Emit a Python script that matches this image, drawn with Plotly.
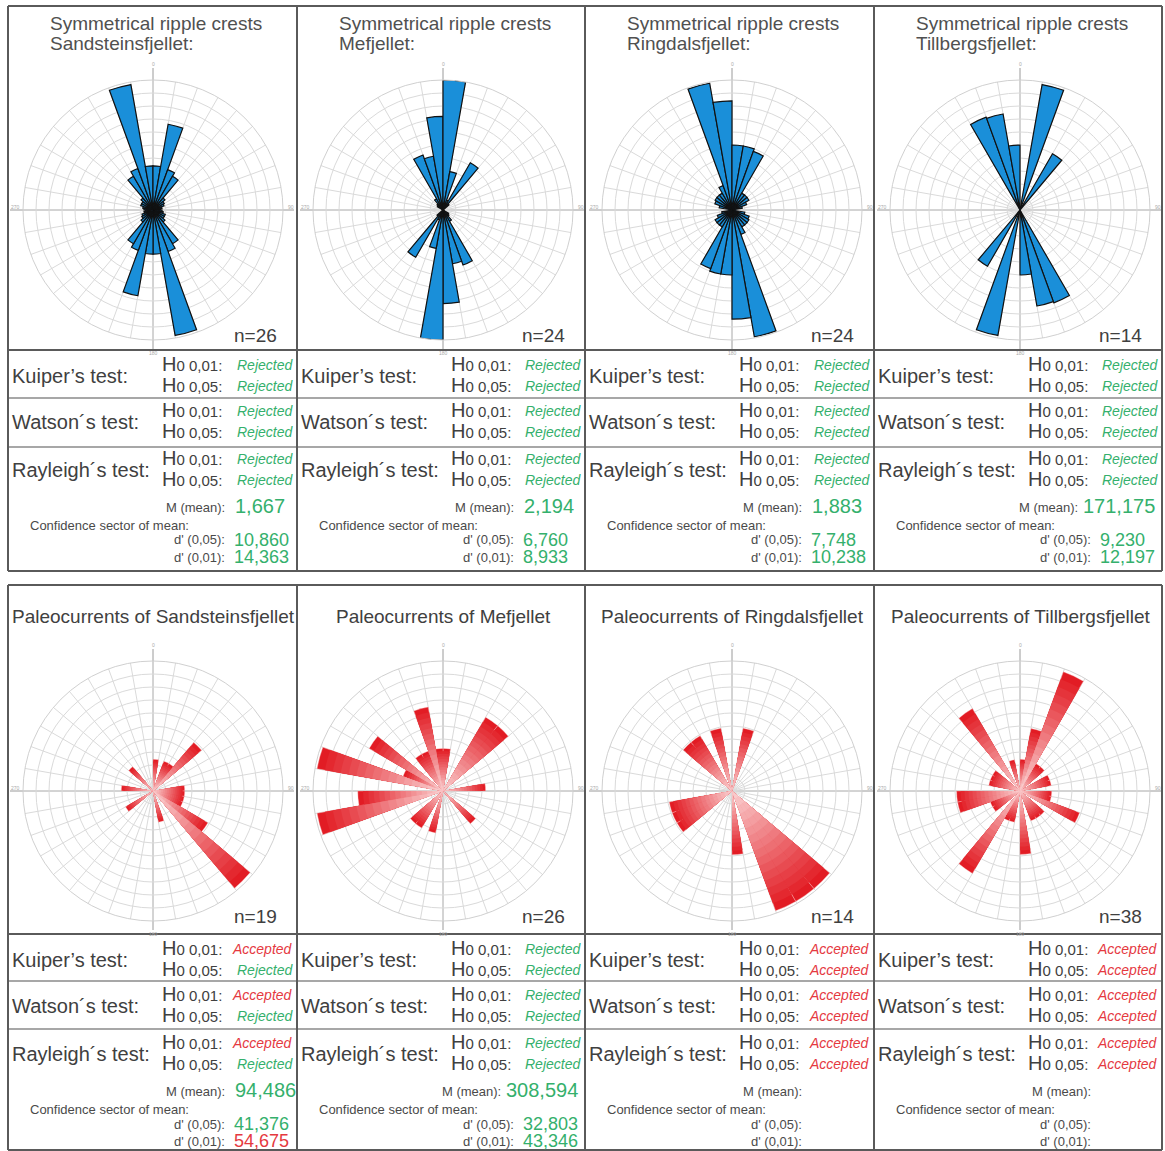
import plotly.graph_objects as go

# ---------------- data ----------------
sites = ["Sandsteinsfjellet", "Mefjellet", "Ringdalsfjellet", "Tillbergsfjellet"]
ripple_n = [26, 24, 24, 14]
paleo_n = [19, 26, 14, 38]

# Symmetrical ripple crests (axial data): north half-circle bins (deg) and
# relative bar length (fraction of outer circle); plotted at theta and theta+180
rip_theta_sand = [275, 285, 295, 305, 315, 325, 335, 345, 355, 5, 15, 25, 35, 45, 55, 65, 75, 85]
rip_r_sand = [0.07, 0.08, 0.1, 0.1, 0.12, 0.3, 0.34, 0.98, 0.34, 0.34, 0.67, 0.33, 0.3, 0.12, 0.1, 0.09, 0.07, 0.06]
rip_theta_mef = [305, 315, 325, 335, 345, 355, 5, 15, 25, 35, 45]
rip_r_mef = [0.05, 0.06, 0.1, 0.45, 0.42, 0.72, 1.0, 0.3, 0.08, 0.42, 0.06]
rip_theta_ring = [285, 295, 305, 315, 325, 335, 345, 355, 5, 15, 25, 35, 45, 55, 65, 75]
rip_r_ring = [0.1, 0.14, 0.15, 0.15, 0.15, 0.2, 0.99, 0.84, 0.5, 0.5, 0.48, 0.15, 0.15, 0.15, 0.12, 0.08]
rip_theta_till = [335, 345, 355, 15, 35]
rip_r_till = [0.76, 0.75, 0.5, 0.98, 0.5]

# Paleocurrents: bin centres (deg) and counts
pal_theta_sand = [5, 25, 35, 45, 85, 95, 105, 115, 125, 135, 165, 235, 275, 315]
pal_cnt_sand = [1, 1, 1, 2, 1, 1, 1, 1, 2, 4, 1, 1, 1, 1]
pal_theta_mef = [5, 35, 45, 85, 135, 195, 215, 225, 255, 265, 285, 295, 305, 325, 335, 345, 355]
pal_cnt_mef = [1, 2, 2, 1, 1, 1, 1, 1, 3, 2, 3, 1, 2, 1, 1, 2, 1]
pal_theta_ring = [15, 135, 145, 155, 175, 235, 245, 255, 315, 325, 345]
pal_cnt_ring = [1, 2, 2, 2, 1, 1, 1, 1, 1, 1, 1]
pal_theta_till = [5, 15, 25, 35, 45, 65, 75, 95, 105, 115, 135, 145, 155, 175, 195, 205, 215,
                  235, 245, 255, 265, 285, 295, 305, 325, 345]
pal_cnt_till = [1, 2, 4, 1, 1, 1, 1, 1, 1, 2, 1, 1, 1, 2, 1, 1, 3, 1, 1, 2, 2, 1, 1, 1, 3, 1]
pal_rmax = [4.1, 3.05, 2.04, 4.1]

# Test results: [Kuiper 0.01, Kuiper 0.05, Watson 0.01, Watson 0.05, Rayleigh 0.01, Rayleigh 0.05]
rip_tests = [["Rejected"] * 6 for _ in range(4)]
pal_tests = [
    ["Accepted", "Rejected", "Accepted", "Rejected", "Accepted", "Rejected"],
    ["Rejected"] * 6,
    ["Accepted"] * 6,
    ["Accepted"] * 6,
]
rip_mean = ["1,667", "2,194", "1,883", "171,175"]
rip_d05 = ["10,860", "6,760", "7,748", "9,230"]
rip_d01 = ["14,363", "8,933", "10,238", "12,197"]
pal_mean = ["94,486", "308,594", "", ""]
pal_d05 = ["41,376", "32,803", "", ""]
pal_d01 = ["54,675", "43,346", "", ""]
pal_d01_ok = [False, True, True, True]

# ---------------- layout helpers ----------------
W, H = 1165, 1151
R = 130
X0 = [8, 297, 585, 874]
X1 = [297, 585, 874, 1162]
CX = [153, 443, 732, 1020]
CY_TOP, CY_BOT = 210, 791
FONT = "Liberation Sans, Arial, sans-serif"
GRAY = "#4a4a4a"
GREEN = "#34b06c"
RED = "#e5393f"
BLUE = "#1a8fd9"


def fx(x):
    return x / W


def fy(y):
    return 1 - y / H


fig = go.Figure()
annotations = []
shapes = []


def ann(x, y, text, size, color=GRAY, xanchor="left", yanchor="middle"):
    annotations.append(dict(x=fx(x), y=fy(y), xref="paper", yref="paper", text=text,
                            showarrow=False, xanchor=xanchor, yanchor=yanchor,
                            font=dict(family=FONT, size=size, color=color)))


def line(x0, y0, x1, y1, color="#5a5a5a", width=2, layer="above"):
    shapes.append(dict(type="line", xref="paper", yref="paper", x0=fx(x0), y0=fy(y0),
                       x1=fx(x1), y1=fy(y1), line=dict(color=color, width=width), layer=layer))


def polar_cfg(cx, cy, rmax):
    return dict(
        domain=dict(x=[fx(cx - R), fx(cx + R)], y=[fy(cy + R), fy(cy - R)]),
        bgcolor="rgba(0,0,0,0)", barmode="overlay",
        radialaxis=dict(range=[0, rmax], tickvals=[rmax * k / 10 for k in range(1, 11)],
                        showticklabels=False, ticks="", showline=False,
                        gridcolor="#dadada", gridwidth=1),
        angularaxis=dict(rotation=90, direction="clockwise", tickvals=list(range(0, 360, 10)),
                         showticklabels=False, ticks="", gridcolor="#dadada",
                         linecolor="#d0d0d0", showline=True),
    )


layout_polars = {}

# ---------------- ripple roses (top) ----------------
rip_sets = [(rip_theta_sand, rip_r_sand), (rip_theta_mef, rip_r_mef),
            (rip_theta_ring, rip_r_ring), (rip_theta_till, rip_r_till)]
for i, (th, rr) in enumerate(rip_sets):
    name = "polar" if i == 0 else f"polar{i + 1}"
    layout_polars[name] = polar_cfg(CX[i], CY_TOP, 1.0)
    theta_full = list(th) + [(t + 180) % 360 for t in th]
    r_full = list(rr) + list(rr)
    fig.add_trace(go.Barpolar(r=r_full, theta=theta_full, width=10, subplot=name,
                              marker=dict(color=BLUE, line=dict(color="#111111", width=1.2)),
                              showlegend=False, hoverinfo="skip"))

# ---------------- paleocurrent roses (bottom) ----------------
pal_sets = [(pal_theta_sand, pal_cnt_sand), (pal_theta_mef, pal_cnt_mef),
            (pal_theta_ring, pal_cnt_ring), (pal_theta_till, pal_cnt_till)]
NL = 16
tip = (226, 28, 36)
core = (250, 205, 206)
for i, (th, cnt) in enumerate(pal_sets):
    name = f"polar{i + 5}"
    layout_polars[name] = polar_cfg(CX[i], CY_BOT, pal_rmax[i])
    for k in range(NL):
        f = 1 - k / NL
        t = k / (NL - 1)
        col = "rgb(%d,%d,%d)" % tuple(round(a + (b - a) * t) for a, b in zip(tip, core))
        fig.add_trace(go.Barpolar(r=[c * f for c in cnt], theta=th, width=10, subplot=name,
                                  marker=dict(color=col, line=dict(color="rgba(255,200,200,0.6)",
                                                                   width=0.6 if k == 0 else 0)),
                                  showlegend=False, hoverinfo="skip"))

# cross axes and tiny direction labels
for cy in (CY_TOP, CY_BOT):
    for cx in CX:
        line(cx - 143, cy, cx + 141, cy, color="#9a9a9a", width=1, layer="below")
        line(cx, cy - 142, cx, cy + 139, color="#9a9a9a", width=1, layer="below")
        ann(cx, cy - 146, "0", 5, "#aaaaaa", "center")
        ann(cx + 138, cy - 3, "90", 5, "#aaaaaa", "center")
        ann(cx, cy + 143, "180", 5, "#aaaaaa", "center")
        ann(cx - 138, cy - 3, "270", 5, "#aaaaaa", "center")

# ---------------- frames ----------------
for (top, mid, s1, s2, bot) in [(6, 350, 398, 447, 571), (585, 934, 981, 1029, 1150)]:
    line(X0[0], top, X1[3], top)
    line(X0[0], bot, X1[3], bot)
    line(X0[0], mid, X1[3], mid)
    line(X0[0], s1, X1[3], s1, color="#8a8a8a", width=1.5)
    line(X0[0], s2, X1[3], s2, color="#8a8a8a", width=1.5)
    for x in X0 + [X1[3]]:
        line(x, top, x, bot)

# ---------------- titles and n ----------------
for i in range(4):
    ann(X0[i] + 40, 23, "Symmetrical ripple crests", 19, "#505050")
    ann(X0[i] + 40, 44, sites[i] + ":", 19, "#505050")
    ann(X1[i] - 18, 335, f"n={ripple_n[i]}", 19, "#404040", "right")
    ann(CX[i], 616, f"Paleocurrents of {sites[i]}", 19, "#404040", "center")
    ann(X1[i] - 18, 916, f"n={paleo_n[i]}", 19, "#404040", "right")


def h0(level):
    return ("<span style='font-size:20px'>H</span>"
            f"<span style='font-size:15px'>0 {level}:</span>")


def table(i, y0, tests, mean, d05, d01, d01_ok):
    x0, x1 = X0[i], X1[i]
    names = ["Kuiper’s test:", "Watson´s test:", "Rayleigh´s test:"]
    row_y = [y0 + 26, y0 + 72, y0 + 120]
    for j in range(3):
        ann(x0 + 2, row_y[j], names[j], 20, "#404040")
        for m, lev in enumerate(["0,01", "0,05"]):
            yy = row_y[j] - 12 + 21 * m
            ann(x0 + 152, yy, h0(lev), 15, "#404040")
            res = tests[2 * j + m]
            ann(x1 - 2, yy + 1, f"<i>{res}</i>", 14, GREEN if res == "Rejected" else RED, "right")
    ym = y0 + 157
    long_val = len(mean) > 6
    lab_x = x0 + (206 if long_val else 219)
    ann(lab_x, ym, "M (mean):", 13, GRAY, "right")
    if mean:
        ann(lab_x + (1 if long_val else 6), ym - 1, mean, 20, GREEN, "left")
    ann(x0 + 20, ym + 18, "Confidence sector of mean:", 13, GRAY)
    ann(x0 + 219, ym + 33, "d' (0,05):", 13, GRAY, "right")
    ann(x0 + 219, ym + 50, "d' (0,01):", 13, GRAY, "right")
    if d05:
        ann(x0 + 224, ym + 33, d05, 18, GREEN)
    if d01:
        ann(x0 + 224, ym + 50, d01, 18, GREEN if d01_ok else RED)


for i in range(4):
    table(i, 350, rip_tests[i], rip_mean[i], rip_d05[i], rip_d01[i], True)
    table(i, 934, pal_tests[i], pal_mean[i], pal_d05[i], pal_d01[i], pal_d01_ok[i])

fig.update_layout(width=W, height=H, margin=dict(l=0, r=0, t=0, b=0),
                  paper_bgcolor="white", plot_bgcolor="white", showlegend=False,
                  annotations=annotations, shapes=shapes, **layout_polars)

fig.write_html("out.html", config={"displayModeBar": False},
               post_script="document.body.style.margin='0';document.body.style.overflow='hidden';")
